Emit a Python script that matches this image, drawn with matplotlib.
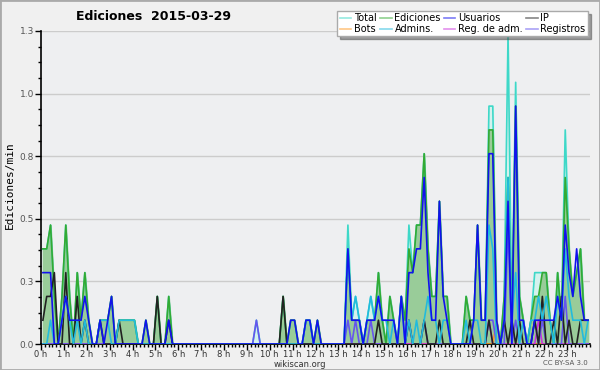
import numpy as np
from matplotlib import pyplot as plt
from matplotlib.patches import Rectangle
from matplotlib.ticker import MultipleLocator

# edits per 10-minute slot, 144 slots (one row per hour)
total = [4, 4, 5, 2, 0, 2,  5, 2, 0, 3, 1, 3,  1, 0, 0, 1, 1, 1,  2, 0, 1, 1, 1, 1,
         1, 0, 0, 1, 0, 0,  2, 0, 0, 2, 0, 0,  0, 0, 0, 0, 0, 0,  0, 0, 0, 0, 0, 0,
         0, 0, 0, 0, 0, 0,  0, 0, 1, 0, 0, 0,  0, 0, 0, 2, 0, 1,  1, 0, 0, 1, 1, 0,
         1, 0, 0, 0, 0, 0,  0, 0, 5, 1, 2, 1,  0, 1, 2, 1, 3, 1,  0, 2, 1, 0, 2, 1,
         5, 3, 5, 5, 8, 4,  2, 2, 6, 2, 2, 0,  0, 0, 0, 2, 1, 1,  5, 1, 1, 10, 10, 1,
         0, 2, 13, 1, 11, 2,  1, 0, 1, 3, 3, 3,  3, 1, 0, 3, 1, 9,  4, 2, 3, 4, 1, 1]
ediciones = [4, 4, 5, 2, 0, 2,  5, 2, 0, 3, 1, 3,  1, 0, 0, 1, 1, 1,  2, 0, 1, 1, 1, 1,
             1, 0, 0, 1, 0, 0,  2, 0, 0, 2, 0, 0,  0, 0, 0, 0, 0, 0,  0, 0, 0, 0, 0, 0,
             0, 0, 0, 0, 0, 0,  0, 0, 0, 0, 0, 0,  0, 0, 0, 2, 0, 1,  1, 0, 0, 1, 1, 0,
             1, 0, 0, 0, 0, 0,  0, 0, 4, 1, 1, 1,  0, 1, 1, 1, 3, 1,  0, 2, 1, 0, 2, 1,
             4, 3, 5, 5, 8, 4,  2, 2, 6, 2, 2, 0,  0, 0, 0, 2, 1, 1,  5, 1, 1, 9, 9, 1,
             0, 2, 7, 1, 10, 2,  1, 0, 1, 2, 2, 3,  3, 1, 0, 3, 1, 7,  4, 2, 3, 4, 1, 1]
usuarios = [3, 3, 3, 0, 0, 1,  2, 1, 1, 1, 1, 2,  1, 0, 0, 1, 0, 1,  2, 0, 0, 0, 0, 0,
            0, 0, 0, 1, 0, 0,  0, 0, 0, 1, 0, 0,  0, 0, 0, 0, 0, 0,  0, 0, 0, 0, 0, 0,
            0, 0, 0, 0, 0, 0,  0, 0, 0, 0, 0, 0,  0, 0, 0, 0, 0, 1,  1, 0, 0, 1, 1, 0,
            1, 0, 0, 0, 0, 0,  0, 0, 4, 1, 1, 1,  0, 1, 1, 1, 2, 1,  1, 1, 1, 0, 2, 0,
            3, 3, 4, 4, 7, 3,  1, 1, 6, 2, 1, 0,  0, 0, 0, 0, 0, 1,  5, 1, 1, 8, 8, 1,
            0, 1, 6, 0, 10, 1,  1, 0, 0, 1, 1, 1,  1, 1, 1, 2, 1, 5,  3, 2, 4, 2, 1, 1]
ip = [1, 2, 2, 3, 0, 0,  3, 0, 0, 2, 0, 1,  0, 0, 0, 1, 0, 0,  0, 0, 1, 0, 0, 0,
      0, 0, 0, 0, 0, 0,  2, 0, 0, 1, 0, 0,  0, 0, 0, 0, 0, 0,  0, 0, 0, 0, 0, 0,
      0, 0, 0, 0, 0, 0,  0, 0, 0, 0, 0, 0,  0, 0, 0, 2, 0, 0,  0, 0, 0, 0, 0, 0,
      0, 0, 0, 0, 0, 0,  0, 0, 0, 0, 0, 0,  0, 0, 0, 0, 1, 0,  0, 0, 0, 0, 0, 0,
      1, 0, 0, 0, 1, 0,  0, 0, 1, 0, 0, 0,  0, 0, 0, 0, 1, 0,  0, 0, 0, 1, 0, 0,
      0, 1, 0, 1, 0, 1,  0, 0, 0, 1, 0, 2,  0, 0, 1, 0, 2, 0,  1, 0, 0, 1, 1, 1]
bots = [0] * 119 + [1] + [0] * 24
admins = [0, 0, 1, 0, 0, 1,  2, 1, 0, 1, 0, 1,  0, 0, 0, 1, 1, 1,  0, 0, 1, 1, 1, 1,
          1, 0, 0, 0, 0, 0,  0, 0, 0, 0, 0, 0,  0, 0, 0, 0, 0, 0,  0, 0, 0, 0, 0, 0,
          0, 0, 0, 0, 0, 0,  0, 0, 0, 0, 0, 0,  0, 0, 0, 0, 0, 0,  0, 0, 0, 1, 1, 0,
          0, 0, 0, 0, 0, 0,  0, 0, 4, 1, 2, 1,  0, 1, 2, 1, 2, 1,  1, 0, 1, 0, 2, 0,
          1, 0, 1, 0, 1, 2,  1, 1, 0, 1, 1, 0,  0, 0, 0, 1, 0, 1,  1, 0, 0, 5, 4, 0,
          0, 1, 7, 1, 3, 0,  1, 0, 1, 1, 2, 1,  2, 1, 0, 2, 1, 4,  2, 1, 1, 1, 0, 1]
reg_adm = [0] * 117 + [1] + [0] * 12 + [1] + [0] * 13
registros = [0] * 144
for i, v in [(56, 1), (80, 1), (82, 1), (86, 1), (96, 1), (100, 1), (117, 1), (118, 1),
             (122, 5), (124, 1), (129, 1), (131, 1), (137, 2)]:
    registros[i] = v

unit = 0.095  # edits/min for one edit in a slot
hours = (np.arange(144) + 0.5) / 6

fig = plt.figure(figsize=(6, 3.7), dpi=100, facecolor='#f0f0f0')
fig.patches.append(Rectangle((0, 0), 1, 1, transform=fig.transFigure, fill=False,
                             edgecolor='#aaaaaa', linewidth=2))
ax = fig.add_axes([41 / 600, 26 / 370, 549 / 600, 313 / 370], facecolor='#eeeff1')

t = np.array(total) * unit
e = np.array(ediciones) * unit
ax.fill_between(hours, 0, t, color='#d4f2ee', zorder=1)
ax.fill_between(hours, 0, e, color='#99cc99', zorder=2)

series = [
    ('Total', t, '#3ed8c8'),
    ('Bots', np.array(bots) * unit, '#ff9922'),
    ('Ediciones', e, '#33aa33'),
    ('Admins.', np.array(admins) * unit, '#22bbdd'),
    ('Usuarios', np.array(usuarios) * unit, '#1111ee'),
    ('Reg. de adm.', np.array(reg_adm) * unit, '#cc33dd'),
    ('IP', np.array(ip) * unit, '#222222'),
    ('Registros', np.array(registros) * unit, '#6655ee'),
]
zorders = {'Total': 3, 'Ediciones': 4, 'Registros': 5, 'Reg. de adm.': 5, 'Bots': 5,
           'IP': 6, 'Admins.': 7, 'Usuarios': 8}
handles = []
for name, vals, col in series:
    ax.plot(hours, vals, color=col, lw=1.2, zorder=zorders[name])
    h, = ax.plot([], [], color=col, lw=1.2, alpha=0.55, label=name)
    handles.append(h)

ax.set_xlim(0, 24)
ax.set_ylim(0, 1.25)
ax.set_xticks(np.arange(24))
ax.xaxis.set_minor_locator(MultipleLocator(1 / 6))
ax.set_xticklabels(['%d h' % h for h in range(24)], fontsize=6, color='#333333')
ax.set_yticks([0, 0.25, 0.5, 0.75, 1.0, 1.25])
ax.set_yticklabels(['0.0', '0.3', '0.5', '0.8', '1.0', '1.3'], fontsize=6.5, color='#555555')
ax.yaxis.set_minor_locator(MultipleLocator(0.0625))
ax.tick_params(axis='both', which='major', length=4, width=1, pad=1)
ax.tick_params(axis='both', which='minor', length=2.5, width=1)
ax.tick_params(axis='x', which='major', pad=0.5)
ax.grid(axis='y', which='major', color='#cccccc', lw=1, zorder=0)
ax.set_axisbelow(True)
for s in ['top', 'right']:
    ax.spines[s].set_visible(False)
ax.spines['left'].set_linewidth(1.2)
ax.spines['bottom'].set_linewidth(1.2)

fig.text(154 / 600, 1 - 16 / 370, 'Ediciones  2015-03-29', fontsize=9, fontweight='bold',
         ha='center', va='center')
fig.text(10 / 600, 1 - 185 / 370, 'Ediciones/min', fontsize=8, family='DejaVu Sans Mono',
         rotation=90, ha='center', va='center')
fig.text(300 / 600, 1 - 364.5 / 370, 'wikiscan.org', fontsize=6, color='#333333',
         ha='center', va='center')
fig.text(588 / 600, 1 - 363 / 370, 'CC BY-SA 3.0', fontsize=5, color='#555555',
         ha='right', va='center')

leg = fig.legend(handles=handles, ncol=4, loc='upper right', bbox_to_anchor=(588 / 600, 1 - 11 / 370),
                 fontsize=7, frameon=True, fancybox=False, shadow=True, handlelength=1.2,
                 handletextpad=0.3, columnspacing=0.3, labelspacing=0.05, borderpad=0.25,
                 borderaxespad=0)
leg.get_frame().set_edgecolor('#aaaaaa')
leg.get_frame().set_facecolor('white')
leg.set_zorder(20)

fig.savefig('out.png', dpi=100, facecolor=fig.get_facecolor())
